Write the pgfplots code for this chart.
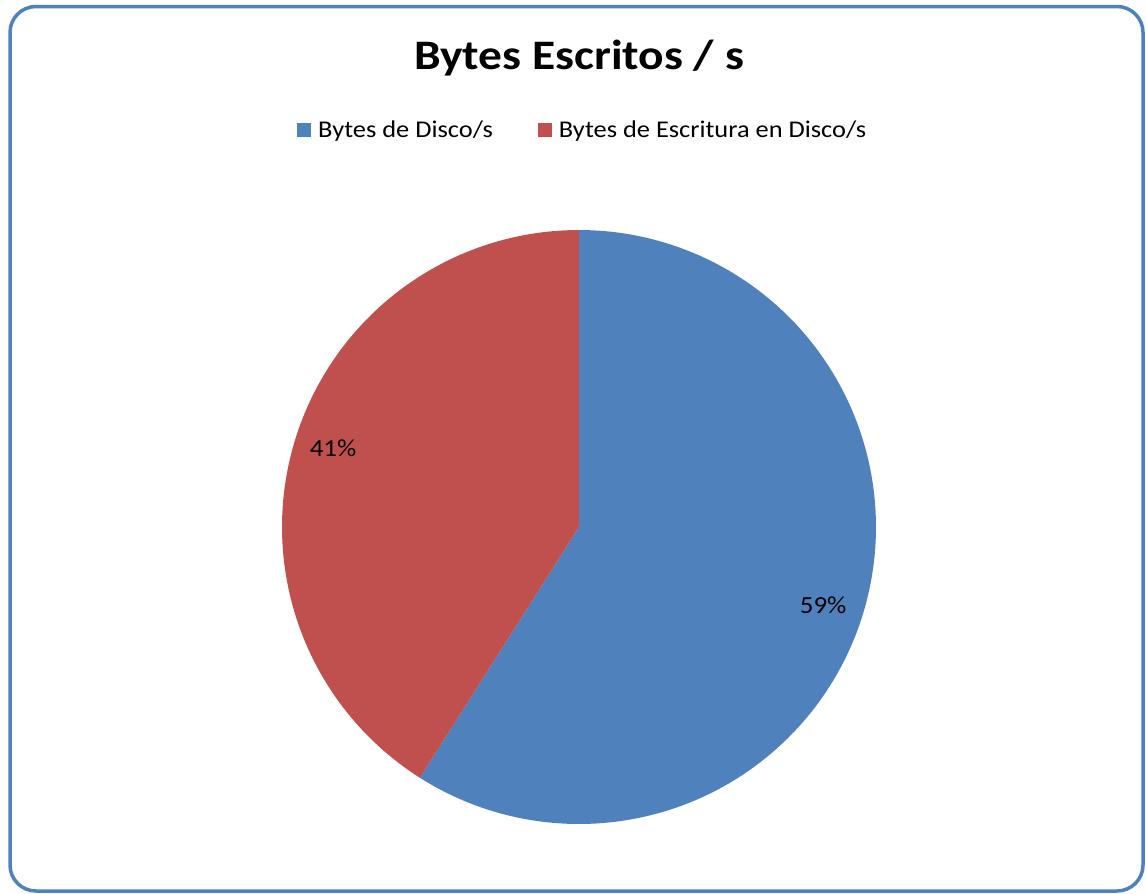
\documentclass[border=0pt]{standalone}
\usepackage{pgfplots}
\pgfplotsset{compat=1.18}
\usepackage{fontspec}
\setmainfont{Carlito}[FakeStretch=1.1]
\newfontfamily\titlefont{Carlito}[FakeStretch=1.13]
\definecolor{pieblue}{HTML}{4F81BD}
\definecolor{piered}{HTML}{C0504D}
% data: Bytes de Disco/s = 59 %, Bytes de Escritura en Disco/s = 41 %
\def\valA{59}
\def\valB{41}
\begin{document}
\begin{tikzpicture}[x=1pt,y=1pt]
\path[use as bounding box] (0,0) rectangle (1146,-894);
\draw[pieblue, line width=3.5pt, rounded corners=26pt] (10,-6.5) rectangle (1143,-891);
\node[anchor=base, font=\titlefont\fontsize{42}{48}\selectfont\bfseries] at (579,-69.5) {Bytes Escritos / s};
\begin{axis}[at={(579pt,-527pt)}, anchor=center,
  x=297pt, y=297pt, xmin=-1, xmax=1, ymin=-1, ymax=1,
  hide axis, clip=false,
  legend columns=2,
  legend image code/.code={\fill[#1] (0pt,-7pt) rectangle (14pt,7pt);},
  legend style={draw=none, fill=none, inner sep=0pt, at={(0.02525,1.168)}, anchor=west,
    font=\fontsize{24}{28}\selectfont,
    /tikz/every even column/.append style={column sep=38pt},
    nodes={inner xsep=7pt}},
]
\addplot[fill=pieblue, draw=none, domain={90-3.6*\valA}:90, samples=150, variable=\t]
  ({cos(t)},{sin(t)}) -- (axis cs:0,0) -- cycle;
\addlegendentry{Bytes de Disco/s}
\addplot[fill=piered, draw=none, domain=90:{90+3.6*\valB}, samples=120, variable=\t]
  ({cos(t)},{sin(t)}) -- (axis cs:0,0) -- cycle;
\addlegendentry{Bytes de Escritura en Disco/s}
\node[font=\fontsize{24.5}{28}\selectfont] at (axis cs:0.822,-0.263) {\valA\%};
\node[font=\fontsize{24.5}{28}\selectfont] at (axis cs:-0.828,0.266) {\valB\%};
\end{axis}
\end{tikzpicture}
\end{document}
